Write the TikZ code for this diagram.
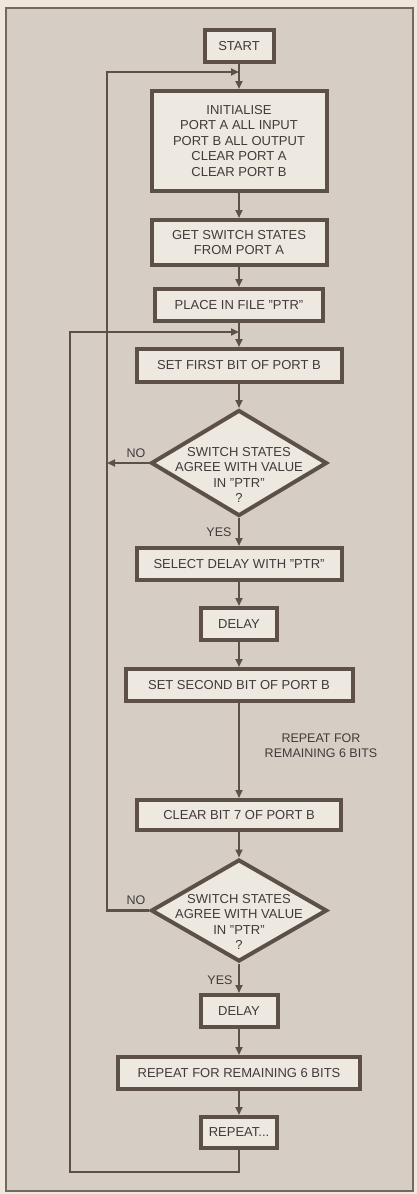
\documentclass[tikz,border=0pt]{standalone}
\usepackage{fontspec}
\setmainfont{Liberation Sans}
\usetikzlibrary{shapes.geometric,arrows.meta}
\definecolor{outerbg}{HTML}{EFE6DC}
\definecolor{innerbg}{HTML}{D6CEC5}
\definecolor{framec}{HTML}{75695F}
\definecolor{boxc}{HTML}{5D5049}
\definecolor{boxfill}{HTML}{EDE8E0}
\definecolor{txt}{HTML}{423A3A}
\tikzset{
  stepbox/.style={draw=boxc, line width=4pt, fill=boxfill, text=txt, inner sep=0pt,
    font=\fontsize{13}{15.5}\selectfont, align=center},
  decision/.style={diamond, draw=boxc, line width=4pt, fill=boxfill, inner sep=0pt},
  dtext/.style={text=txt, font=\fontsize{13}{15.5}\selectfont, align=center, inner sep=0pt},
  lbl/.style={text=txt, font=\fontsize{12.5}{15}\selectfont, align=center, inner sep=0pt},
  conn/.style={draw=boxc, line width=2.4pt},
  arr/.style={conn, -{Triangle[length=8pt,width=7pt]}},
}
\begin{document}
\begin{tikzpicture}[x=1pt,y=-1pt]
\useasboundingbox (0,0) rectangle (417,1194);
\fill[outerbg] (0,0) rectangle (417,1194);
\draw[framec, fill=innerbg, line width=1.6pt] (6,8) rectangle (413,1191);

% nodes
\node[stepbox, minimum width=69pt, minimum height=32pt] (start) at (239,46) {START};
\node[stepbox, minimum width=175pt, minimum height=100pt] (init) at (239,141)
  {INITIALISE\\PORT A ALL INPUT\\PORT B ALL OUTPUT\\CLEAR PORT A\\CLEAR PORT B};
\node[stepbox, minimum width=175pt, minimum height=45pt] (get) at (239,242.5)
  {GET SWITCH STATES\\FROM PORT A};
\node[stepbox, minimum width=168pt, minimum height=32pt] (place) at (239,305)
  {PLACE IN FILE "PTR"};
\node[stepbox, minimum width=205pt, minimum height=33pt] (first) at (239,365.5)
  {SET FIRST BIT OF PORT B};
\node[decision, minimum width=176pt, minimum height=106pt] (dia1) at (239,463) {};
\node[dtext] (dia1t) at (239,475) {SWITCH STATES\\AGREE WITH VALUE\\IN "PTR"\\?};
\node[stepbox, minimum width=205pt, minimum height=32pt] (select) at (239,564)
  {SELECT DELAY WITH "PTR"};
\node[stepbox, minimum width=76pt, minimum height=32pt] (delay1) at (239,624) {DELAY};
\node[stepbox, minimum width=227pt, minimum height=32pt] (second) at (239,685)
  {SET SECOND BIT OF PORT B};
\node[stepbox, minimum width=204pt, minimum height=30pt] (clear) at (239,815)
  {CLEAR BIT 7 OF PORT B};
\node[decision, minimum width=176pt, minimum height=102pt] (dia2) at (239,910.5) {};
\node[dtext] (dia2t) at (239,922) {SWITCH STATES\\AGREE WITH VALUE\\IN "PTR"\\?};
\node[stepbox, minimum width=77pt, minimum height=32pt] (delay2) at (239,1011) {DELAY};
\node[stepbox, minimum width=242pt, minimum height=32pt] (rep6) at (239,1073)
  {REPEAT FOR REMAINING 6 BITS};
\node[stepbox, minimum width=76pt, minimum height=31pt] (again) at (239,1132.5) {REPEAT...};

% labels
\node[lbl] (no1) at (136,453) {NO};
\node[lbl] (yes1) at (219,532) {YES};
\node[lbl] (no2) at (136,900) {NO};
\node[lbl] (yes2) at (220,980) {YES};
\node[lbl] (rep) at (321,746) {REPEAT FOR\\REMAINING 6 BITS};

% coordinates
\coordinate (j1) at (239,72);
\coordinate (j2) at (239,332);
\coordinate (outerx) at (107,463);
\coordinate (outerb) at (107,910.5);
\coordinate (innerb) at (70,1172);

% main flow
\draw[arr] (start) -- (init);
\draw[arr] (init) -- (get);
\draw[arr] (get) -- (place);
\draw[arr] (place) -- (first);
\draw[arr] (first) -- (dia1);
\draw[arr] (dia1) -- (select);
\draw[arr] (select) -- (delay1);
\draw[arr] (delay1) -- (second);
\draw[arr] (second) -- (clear);
\draw[arr] (clear) -- (dia2);
\draw[arr] (dia2) -- (delay2);
\draw[arr] (delay2) -- (rep6);
\draw[arr] (rep6) -- (again);

% loops
\draw[arr] (dia1.west) -- (outerx);
\draw[arr] (dia2.west) -- (outerb) |- (j1);
\draw[arr] (again.south) |- (innerb) |- (j2);
\end{tikzpicture}
\end{document}
